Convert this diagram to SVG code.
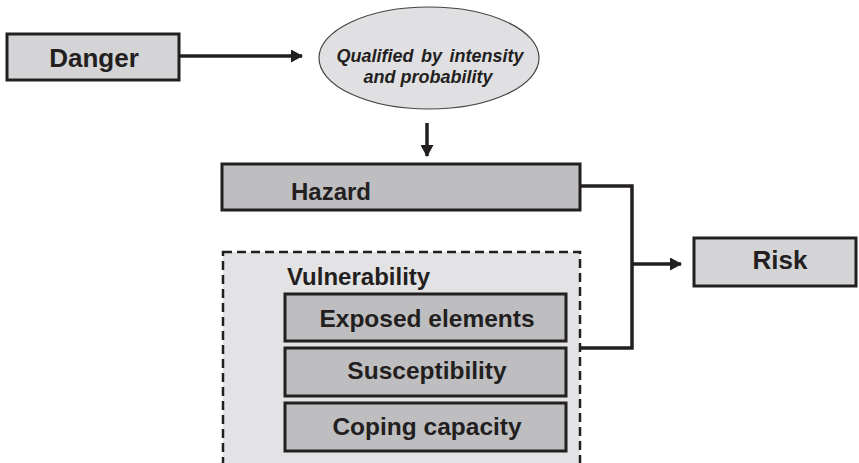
<svg xmlns="http://www.w3.org/2000/svg" width="859" height="463" viewBox="0 0 859 463">
<style>
.box{stroke:#231f20;stroke-width:3}
.lt{fill:#d4d4d6}
.dk{fill:#bebec0}
.t{font-family:"Liberation Sans",Arial,sans-serif;font-weight:bold;fill:#231f20}
.c{text-anchor:middle}
.ln{fill:none;stroke:#231f20;stroke-width:3.5}
</style>
<defs>
<marker id="ah" viewBox="0 0 12 13" refX="11" refY="6.5" markerWidth="12" markerHeight="13" orient="auto" markerUnits="userSpaceOnUse">
<path d="M0,0 L12,6.5 L0,13 Z" fill="#231f20"/>
</marker>
</defs>
<rect width="859" height="463" fill="#ffffff"/>
<g id="vulnerability">
<rect x="223" y="252" width="357" height="240" fill="#e3e3e5" stroke="#231f20" stroke-width="2.5" stroke-dasharray="9,5"/>
<text class="t" x="287" y="285" font-size="24">Vulnerability</text>
</g>
<g id="danger">
<rect class="box lt" x="7" y="34" width="172" height="46"/>
<text class="t c" x="94" y="67" font-size="26">Danger</text>
</g>
<g id="qualified">
<ellipse cx="429" cy="58" rx="110" ry="51" fill="#e0e0e2" stroke="#444" stroke-width="1.2"/>
<text class="t c" x="430" y="62" font-size="18" font-style="italic" word-spacing="2.5">Qualified by intensity</text>
<text class="t c" x="428" y="83" font-size="18" font-style="italic">and probability</text>
</g>
<g id="hazard">
<rect class="box dk" x="222" y="164" width="358" height="46"/>
<text class="t" x="291" y="200" font-size="24">Hazard</text>
</g>
<g id="risk">
<rect class="box lt" x="694" y="238" width="162" height="48"/>
<text class="t c" x="780" y="269" font-size="26">Risk</text>
</g>
<g id="exposed">
<rect class="box dk" x="285" y="294" width="281" height="47"/>
<text class="t c" x="427" y="327" font-size="24.5">Exposed elements</text>
</g>
<g id="susceptibility">
<rect class="box dk" x="285" y="348" width="281" height="48"/>
<text class="t c" x="427" y="379" font-size="24.5">Susceptibility</text>
</g>
<g id="coping">
<rect class="box dk" x="285" y="403" width="281" height="48"/>
<text class="t c" x="427" y="435" font-size="24.5">Coping capacity</text>
</g>
<g id="connectors">
<line class="ln" x1="179" y1="56" x2="302" y2="56" marker-end="url(#ah)"/>
<line class="ln" x1="427" y1="123" x2="427" y2="156" marker-end="url(#ah)"/>
<polyline class="ln" points="581,186 632,186 632,348 581,348"/>
<line class="ln" x1="632" y1="264" x2="681" y2="264" marker-end="url(#ah)"/>
</g>
</svg>
